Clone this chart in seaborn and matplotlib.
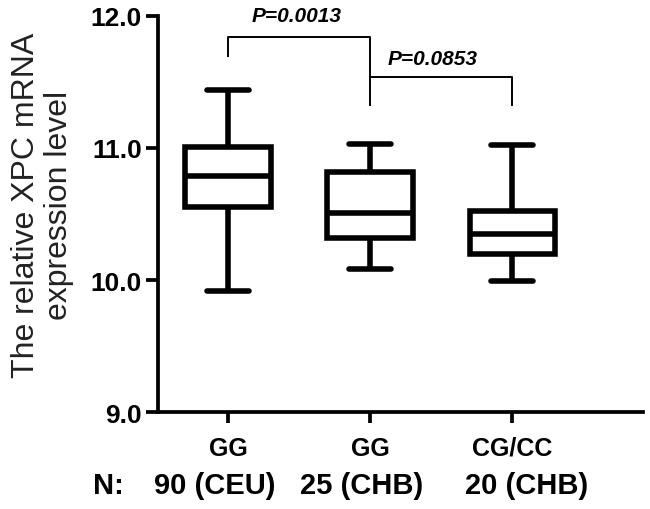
import numpy as np
import pandas as pd
import matplotlib
matplotlib.use("Agg")
import matplotlib.pyplot as plt
import matplotlib.transforms as mtransforms
import seaborn as sns

# five-number summaries
genotypes = ["GG", "GG", "CG/CC"]
populations = ["90 (CEU)", "25 (CHB)", "20 (CHB)"]
mins = [9.92, 10.08, 9.99]
q1s = [10.55, 10.32, 10.20]
medians = [10.79, 10.51, 10.35]
q3s = [11.01, 10.82, 10.52]
maxs = [11.44, 11.03, 11.02]

p_labels = ["P=0.0013", "P=0.0853"]
p_pairs = [(0, 1), (1, 2)]

# five points per group -> quartiles land exactly on the summary values
rows = []
for i, pop in enumerate(populations):
    for v in (mins[i], q1s[i], medians[i], q3s[i], maxs[i]):
        rows.append({"group": pop, "value": v})
df = pd.DataFrame(rows)

sns.set_style("ticks")
plt.rcParams["font.family"] = ["Liberation Sans", "DejaVu Sans"]
plt.rcParams["text.color"] = "black"

fig = plt.figure(figsize=(6.5, 5.1), dpi=100)
ax = fig.add_axes([0.243, 0.190, 0.746, 0.777])

lw = 4
sns.boxplot(data=df, x="group", y="value", order=populations, whis=(0, 100),
            width=0.6, color="white", linecolor="black", linewidth=lw,
            saturation=1, ax=ax,
            capprops=dict(solid_capstyle="round"),
            whiskerprops=dict(solid_capstyle="butt"))

ax.set_xlim(-0.493, 2.92)
ax.set_ylim(9, 12)
ax.set_yticks([9, 10, 11, 12])
ax.set_yticklabels(["9.0", "10.0", "11.0", "12.0"], fontsize=19, fontweight="bold")
ax.set_xticks(range(len(genotypes)))
ax.set_xticklabels(genotypes, fontsize=18, fontweight="bold")
ax.tick_params(axis="y", length=8.6, width=2.7, pad=3, color="black", labelcolor="black")
ax.tick_params(axis="x", length=8, width=2.7, pad=9, color="black", labelcolor="black")
for side in ["top", "right"]:
    ax.spines[side].set_visible(False)
for side in ["left", "bottom"]:
    ax.spines[side].set_linewidth(2.7)
    ax.spines[side].set_color("black")
ax.set_xlabel("")
ax.set_ylabel("The relative XPC mRNA\nexpression level", fontsize=23,
              color="#222222", linespacing=1.15)
ax.yaxis.set_label_coords(-0.173, 0.525)

# sample size row under the genotype labels
trans = mtransforms.blended_transform_factory(ax.transData, ax.transAxes)
ax.text(-0.845, -0.184, "N:", transform=trans, ha="center", va="center",
        fontsize=21, fontweight="bold", color="black", clip_on=False)
n_offsets = [-0.09, -0.06, 0.10]
for i, pop in enumerate(populations):
    ax.text(i + n_offsets[i], -0.184, pop, transform=trans, ha="center",
            va="center", fontsize=21, fontweight="bold", color="black",
            clip_on=False)

# significance brackets
bk = dict(color="black", lw=1.4, solid_capstyle="butt", clip_on=False)
a, b = p_pairs[0]
ax.plot([a, a, b, b], [11.69, 11.84, 11.84, 11.32], **bk)
ax.text((a + b) / 2 - 0.02, 12.0, p_labels[0], ha="center", va="center",
        fontsize=15, fontweight="bold", fontstyle="italic", color="black",
        clip_on=False)
a, b = p_pairs[1]
ax.plot([a, b, b], [11.54, 11.54, 11.32], **bk)
ax.text((a + b) / 2 - 0.06, 11.68, p_labels[1], ha="center", va="center",
        fontsize=15, fontweight="bold", fontstyle="italic", color="black",
        clip_on=False)

fig.savefig("out.png", dpi=100)
